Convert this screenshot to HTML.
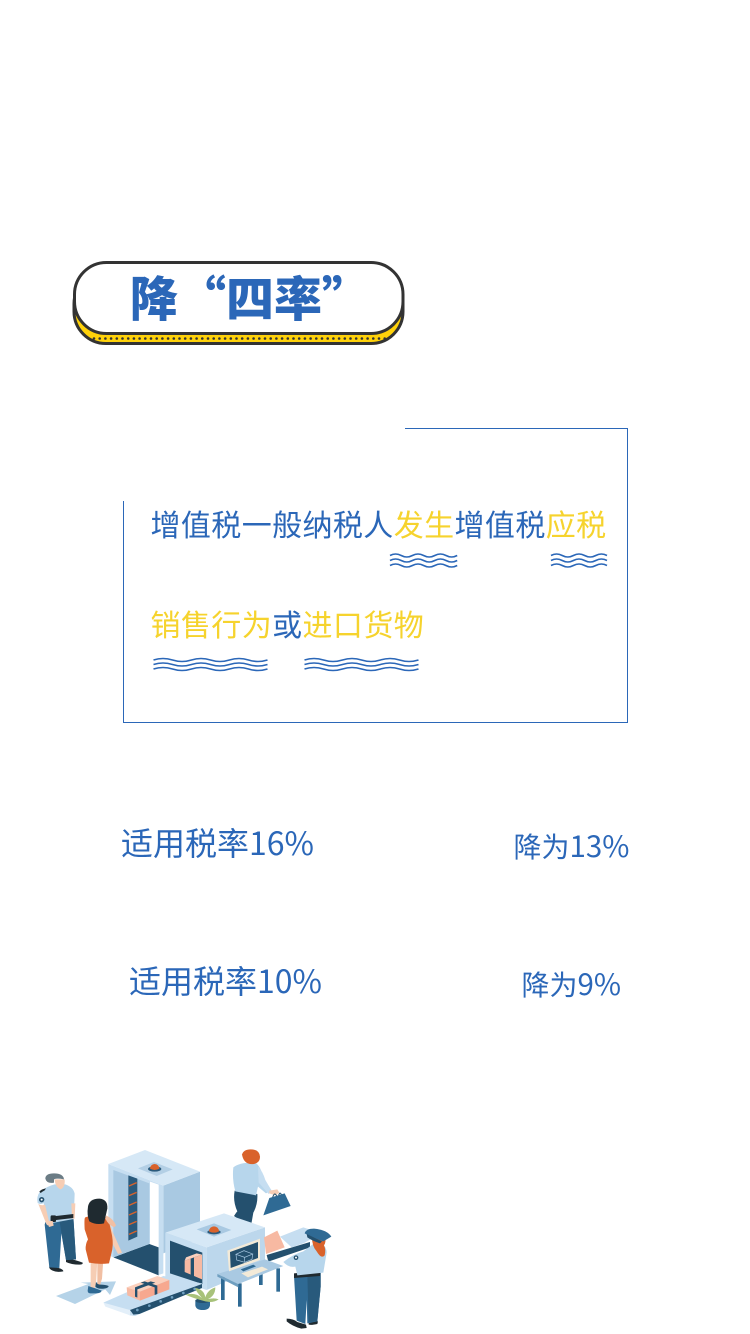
<!DOCTYPE html>
<html lang="zh-CN">
<head>
<meta charset="utf-8">
<title>降“四率”</title>
<style>
html,body{margin:0;padding:0;background:#fff;}
#page{position:relative;width:750px;height:1334px;overflow:hidden;background:#fff;font-family:"Liberation Sans","Noto Sans CJK SC",sans-serif;}
.t{position:absolute;white-space:nowrap;line-height:1;color:#2b67b8;font-family:"Noto Sans CJK SC","Liberation Sans",sans-serif;}
.y{color:#f6d32d;}
.d28{font-size:29.5px;}
svg{position:absolute;display:block;}
</style>
</head>
<body>
<div id="page">

<svg style="left:0;top:0" width="750" height="1334" viewBox="0 0 750 1334">
  <g>
    <rect x="74" y="272" width="329" height="71.5" rx="32" fill="#ffd20a" stroke="#333" stroke-width="3"/>
    <path d="M94 338.500 H386" stroke="#333" stroke-width="2.600" stroke-dasharray="0 5.700" stroke-linecap="round" fill="none"/>
    <rect x="74.500" y="262.500" width="328.500" height="71" rx="32" fill="#fff" stroke="#333" stroke-width="3"/>
  </g>
  <g fill="none" stroke="#2b67b8" stroke-width="1">
    <path d="M405 428.500 H627.500 V722.500 H123.500 V501"/>
  </g>
  <g fill="none" stroke="#2b67b8" stroke-width="1.600">
    <path d="M390 555.500 q5.600 -3 11.200 0 t11.200 0 t11.200 0 t11.200 0 t11.200 0 t11.200 0"/>
    <path d="M390 560.500 q5.600 -3 11.200 0 t11.200 0 t11.200 0 t11.200 0 t11.200 0 t11.200 0"/>
    <path d="M390 565.500 q5.600 -3 11.200 0 t11.200 0 t11.200 0 t11.200 0 t11.200 0 t11.200 0"/>
  </g>
  <g fill="none" stroke="#2b67b8" stroke-width="1.600">
    <path d="M551 555.500 q5.600 -3 11.200 0 t11.200 0 t11.200 0 t11.200 0 t11.200 0"/>
    <path d="M551 560.500 q5.600 -3 11.200 0 t11.200 0 t11.200 0 t11.200 0 t11.200 0"/>
    <path d="M551 565.500 q5.600 -3 11.200 0 t11.200 0 t11.200 0 t11.200 0 t11.200 0"/>
  </g>
  <g fill="none" stroke="#2b67b8" stroke-width="1.600">
    <path d="M153.500 660 q9.500 -3 19 0 t19 0 t19 0 t19 0 t19 0 t19 0"/>
    <path d="M153.500 664.500 q9.500 -3 19 0 t19 0 t19 0 t19 0 t19 0 t19 0"/>
    <path d="M153.500 669 q9.500 -3 19 0 t19 0 t19 0 t19 0 t19 0 t19 0"/>
  </g>
  <g fill="none" stroke="#2b67b8" stroke-width="1.600">
    <path d="M304.500 660 q9.500 -3 19 0 t19 0 t19 0 t19 0 t19 0 t19 0"/>
    <path d="M304.500 664.500 q9.500 -3 19 0 t19 0 t19 0 t19 0 t19 0 t19 0"/>
    <path d="M304.500 669 q9.500 -3 19 0 t19 0 t19 0 t19 0 t19 0 t19 0"/>
  </g>
</svg>

<div class="t" style="left:130px;top:271px;font-size:48px;font-weight:900;">降“四率”</div>

<div class="t" style="left:150.500px;top:508px;font-size:30px;letter-spacing:.4px;">增值税一般纳税人<span class="y">发生</span>增值税<span class="y">应税</span></div>
<div class="t" style="left:150.500px;top:608px;font-size:30px;letter-spacing:.4px;"><span class="y">销售行为</span>或<span class="y">进口货物</span></div>

<div class="t" style="left:121px;top:826px;font-size:32px;font-weight:400;">适用税率16%</div>
<div class="t" style="left:513.500px;top:831px;font-size:28px;">降为<span class="d28">13%</span></div>
<div class="t" style="left:129px;top:964px;font-size:32px;font-weight:400;">适用税率10%</div>
<div class="t" style="left:521.500px;top:969px;font-size:28px;">降为<span class="d28">9%</span></div>

<svg style="left:20px;top:1140px" width="320" height="194" viewBox="0 0 960 582">
  <!-- floor arrow -->
  <polygon points="108,468 205,432 182,428 288,424 270,465 256,448 165,492" fill="#b5d3e8"/>

  <!-- man with bag, standing behind the scanner -->
  <g>
    <path d="M644 152 l68 10 q2 30 -12 56 l-6 34 l-10 6 l-42 -30 q6 -10 10 -14 q-14 -30 -8 -62z" fill="#24506e"/>
    <polygon points="690,250 712,256 700,262" fill="#24506e"/>
    <path d="M640 82 q20 -16 66 -14 q16 10 26 50 l22 32 l-16 10 l-24 -20 l-6 26 l-62 -12 q-10 -36 -6 -72z" fill="#b7d6ec"/>
    <path d="M714 80 q14 14 22 40 l20 34 l-10 8 l-30 -34z" fill="#c6def1"/>
    <path d="M748 152 l24 -4 l6 10 l-12 8 l-18 -6z" fill="#f6cdb4"/>
    <path d="M666 44 q4 -16 26 -16 q26 0 28 22 q0 18 -18 22 q-30 4 -36 -28z" fill="#d9622b"/>
    <polygon points="748,174 794,160 812,198 730,226" fill="#2f6a94"/>
    <path d="M758 172 q6 -18 12 -4 M776 166 q4 -12 8 -2" fill="none" stroke="#24506e" stroke-width="3"/>
  </g>

  <!-- security gate -->
  <g>
    <polygon points="280,352 388,312 416,322 416,406" fill="#24506e"/>
    <polygon points="430,137 540,95 540,295 430,340" fill="#a9c9e2"/>
    <polygon points="265,72 430,137 430,400 416,405 416,134 390,125 390,310 280,352 265,345" fill="#c6def1"/>
    <polygon points="280,90 388,130 388,312 280,352" fill="#a9c9e2"/>
    <polygon points="265,72 375,30 540,95 430,137" fill="#d6e8f6"/>
    <polygon points="354,85 402,66 458,88 410,108" fill="#b3cfe5"/>
    <polygon points="325,106 352,116 352,290 325,302" fill="#2a5a7c"/>
    <g stroke="#d9622b" stroke-width="4">
      <line x1="327" y1="138" x2="350" y2="128"/><line x1="327" y1="167" x2="350" y2="157"/>
      <line x1="327" y1="196" x2="350" y2="186"/><line x1="327" y1="225" x2="350" y2="215"/>
      <line x1="327" y1="254" x2="350" y2="244"/><line x1="327" y1="283" x2="350" y2="273"/>
    </g>
    <ellipse cx="404" cy="87" rx="20" ry="8" fill="#2a5a7c"/>
    <path d="M390 86 a14 14 0 1 1 28 0 q-14 8 -28 0z" fill="#d9622b"/>
  </g>

  <!-- x-ray scanner -->
  <g>
    <polygon points="436,278 436,410 560,450 560,322" fill="#c6def1"/>
    <polygon points="450,302 547,338 547,432 450,400" fill="#24506e"/>
    <polygon points="560,322 735,262 735,375 560,450" fill="#bcd7ec"/>
    <polygon points="436,278 612,220 735,262 560,322" fill="#d6e8f6"/>
    <polygon points="530,268 582,250 634,270 582,290" fill="#a9c9e2"/>
    <ellipse cx="582" cy="276" rx="20" ry="7" fill="#2a5a7c"/>
    <path d="M567 274 a15 15 0 1 1 30 0 q-15 8 -30 0z" fill="#d9622b"/>
    <polygon points="494,362 546,344 546,418 494,396" fill="#f7b9a2"/>
    <polygon points="512,356 522,352 522,412 512,408" fill="#24506e"/>
    <polygon points="494,362 522,352 546,344 530,340 498,352" fill="#fbd0bd"/>
  </g>

  <!-- conveyor belt -->
  <g>
    <polygon points="250,488 430,408 546,430 546,442 345,528 330,526" fill="#c6def1"/>
    <polygon points="330,510 546,432 546,444 358,522 340,524" fill="#24506e"/>
    <polygon points="250,488 330,510 330,526 256,500" fill="#e3eff9"/>
    <g fill="#6f9fc0">
      <circle cx="352" cy="510" r="4"/><circle cx="388" cy="497" r="4"/><circle cx="422" cy="484" r="4"/>
      <circle cx="456" cy="472" r="4"/><circle cx="490" cy="459" r="4"/><circle cx="524" cy="447" r="4"/>
    </g>
    <polygon points="320,442 412,408 448,420 360,455" fill="#fbd0bd"/>
    <polygon points="320,442 360,455 360,482 322,466" fill="#f7b9a2"/>
    <polygon points="360,455 448,420 448,448 360,482" fill="#f7a88f"/>
    <polygon points="345,470 352,473 352,448 406,428 392,424 345,442" fill="#24506e"/>
    <polygon points="362,428 374,424 412,437 412,462 404,465 404,442" fill="#24506e"/>
  </g>

  <!-- rear conveyor with bag -->
  <g>
    <polygon points="780,290 850,262 905,280 850,310 815,322" fill="#c6def1"/>
    <polygon points="740,345 870,306 870,322 745,365" fill="#24506e"/>
    <polygon points="732,292 772,272 794,322 738,342" fill="#f7b9a2"/>
  </g>

  <!-- desk and monitor -->
  <g>
    <g fill="#2f6a94">
      <rect x="603" y="410" width="11" height="70"/><rect x="654" y="430" width="11" height="70"/>
      <rect x="717" y="395" width="11" height="40"/><rect x="769" y="385" width="11" height="70"/>
    </g>
    <polygon points="592,402 735,358 790,378 655,432" fill="#a9c9e2"/>
    <polygon points="592,402 655,432 655,442 592,410" fill="#6f9fc0"/>
    <polygon points="622,332 720,296 720,360 627,394" fill="#f3ead8"/>
    <polygon points="630,336 714,306 714,354 632,384" fill="#24506e"/>
    <g fill="none" stroke="#a9c9e2" stroke-width="2">
      <polygon points="648,343 672,332 698,342 674,352"/>
      <polyline points="648,343 650,360 674,367 696,358 698,342"/>
      <line x1="674" y1="352" x2="674" y2="367"/>
    </g>
    <polygon points="662,388 700,374 708,379 670,394" fill="#2f6a94"/>
    <polygon points="664,400 726,380 744,388 684,412" fill="#f3ead8"/>
  </g>

  <!-- plant -->
  <g>
    <path d="M526 482 h44 v14 q-2 14 -22 14 q-20 0 -22 -14z" fill="#2f6a94"/>
    <ellipse cx="548" cy="482" rx="22" ry="7" fill="#24506e"/>
    <path d="M548 482 q-30 -8 -52 -18 q30 -8 50 10 q-20 -22 -20 -30 q26 4 30 28 q6 -22 30 -30 q0 26 -24 36 q20 -6 34 0 q-20 14 -48 4z" fill="#a8c27a"/>
  </g>

  <!-- guard left -->
  <g>
    <path d="M88 380 q14 -2 28 4 q14 4 14 10 q-20 4 -32 -2 q-12 -6 -10 -12z" fill="#1f2a30"/>
    <path d="M138 358 q14 -2 26 2 q14 4 24 8 q2 6 -10 6 q-24 0 -40 -8z" fill="#1f2a30"/>
    <polygon points="78,240 160,230 168,358 138,360 124,280 118,384 88,382 74,254" fill="#2f6a94"/>
    <polygon points="118,240 160,230 168,358 138,360" fill="#285a7c"/>
    <path d="M60 155 q20 -16 44 -22 l32 0 q24 8 28 28 l-3 76 l-64 12 l-22 -10 l-4 -50 q-10 6 -18 0 q-4 -20 7 -34z" fill="#b7d6ec"/>
    <path d="M55 192 q10 6 20 2 l14 58 q-6 8 -10 0z" fill="#f6cdb4"/>
    <path d="M154 190 h12 l-2 46 h-8z" fill="#f6cdb4"/>
    <polygon points="92,230 160,222 160,234 92,242" fill="#1f2a30"/>
    <rect x="92" y="226" width="16" height="20" rx="3" fill="#1f2a30"/>
    <path d="M80 243 l18 0 l3 14 l-14 4z" fill="#f6cdb4"/>
    <path d="M58 155 q6 -8 20 -10 l-4 6 q-8 4 -12 8z" fill="#1f2a30"/>
    <circle cx="65" cy="179" r="8" fill="#24506e"/>
    <circle cx="65" cy="179" r="3" fill="#fff"/>
    <path d="M104 118 q2 24 18 30 q14 -6 12 -30z" fill="#f6cdb4"/>
    <path d="M76 116 q0 -16 26 -16 q28 0 30 18 q-22 -4 -30 0 l0 10 q-22 4 -26 -12z" fill="#6b7c85"/>
  </g>

  <!-- woman in orange -->
  <g>
    <path d="M212 360 h20 l-4 72 l-4 14 h-12z" fill="#f6cdb4"/>
    <path d="M232 358 h18 l-4 58 l-6 20 h-8z" fill="#f1bfa3"/>
    <path d="M205 438 q10 4 18 6 l22 8 q-2 8 -16 8 h-18 q-8 0 -8 -8z" fill="#2f6a94"/>
    <path d="M228 426 q4 8 14 8 q14 0 24 4 q0 6 -14 8 q-20 2 -26 -6z" fill="#24506e"/>
    <path d="M248 232 q20 4 30 44 l28 62 l-12 4 l-36 -70z" fill="#f6cdb4"/>
    <path d="M196 232 q-4 0 -2 36 l10 30 q-8 14 -7 30 l10 40 q30 6 60 2 l10 -42 q4 -24 -4 -56 l-8 -36 q-30 -20 -69 -4z" fill="#d9622b"/>
    <path d="M258 226 q22 10 30 30 l-6 6 q-18 -8 -26 -26z" fill="#f1bfa3"/>
    <path d="M204 200 q4 -24 34 -24 q26 2 24 30 l-10 44 q-24 6 -44 -6 q-8 -18 -4 -44z" fill="#1f2a30"/>
  </g>

  <!-- guard right -->
  <g>
    <path d="M800 536 q20 0 32 10 l26 8 l2 10 l-16 2 q-28 -8 -44 -22z" fill="#1f2a30"/>
    <path d="M866 546 l28 -2 l-2 8 q-18 4 -26 2z" fill="#1f2a30"/>
    <polygon points="822,408 902,398 902,440 892,544 862,550 860,480 856,552 830,542" fill="#2f6a94"/>
    <polygon points="862,404 902,398 902,440 892,544 866,546" fill="#285a7c"/>
    <polygon points="822,400 900,392 900,408 822,414" fill="#1f2a30"/>
    <path d="M790 366 q30 -24 60 -32 l40 -30 q30 10 30 34 l-10 60 l-78 8 l-6 -26 q-20 4 -36 -14z" fill="#b7d6ec"/>
    <circle cx="828" cy="353" r="7" fill="#24506e"/>
    <circle cx="828" cy="353" r="3" fill="#fff"/>
    <path d="M876 290 q0 30 14 44 q14 24 24 12 q4 -18 -2 -30 q8 -12 2 -30z" fill="#d9622b"/>
    <path d="M854 280 q4 -14 28 -14 q40 4 52 24 l-24 14 q-30 -10 -56 -24z" fill="#2f6a94"/>
    <path d="M860 282 l46 22 l-6 6 q-24 -8 -38 -18z" fill="#24506e"/>
  </g>
</svg>
</div>
</body>
</html>
